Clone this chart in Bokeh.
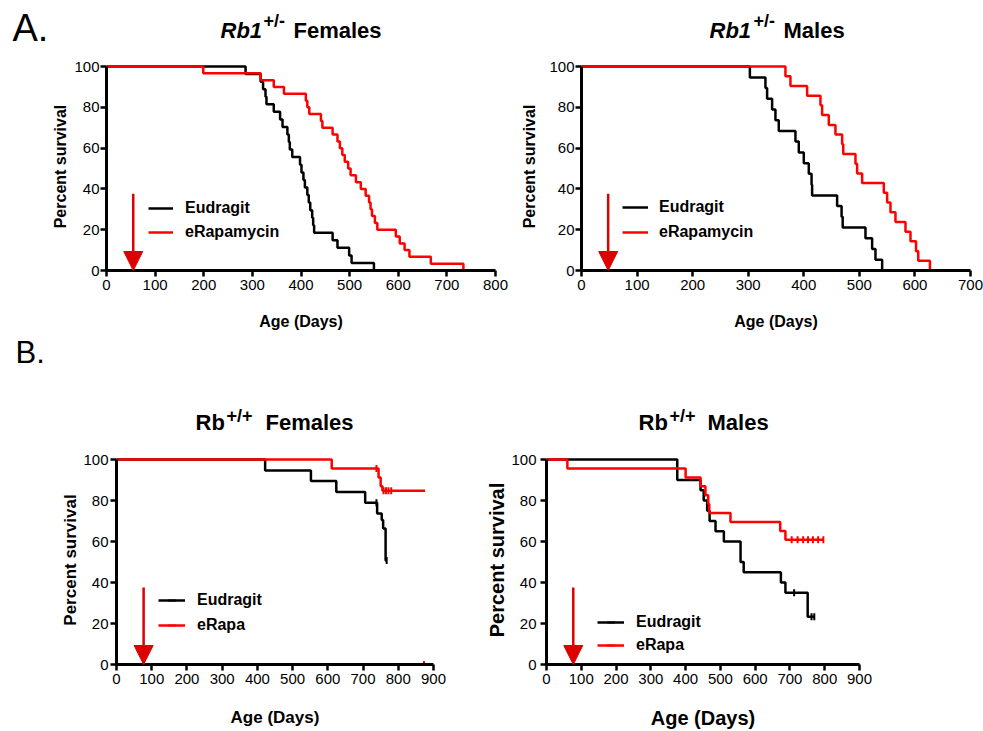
import math
from bokeh.plotting import figure
from bokeh.models import (Range1d, FixedTicker, Label, Legend, LegendItem,
                          Arrow, NormalHead)
from bokeh.layouts import column, row
from bokeh.embed import file_html
from bokeh.resources import INLINE

# ---------------- DATA ----------------
# Panel A, Rb1+/- Females
af_eud_days = [0, 286, 317, 322, 327, 329, 344, 357, 362, 372, 375, 377, 382, 398, 401,
               405, 408, 413, 416, 419, 423, 425, 427, 465, 475, 499, 504, 550]
af_eud_surv = [100, 96.3, 92.6, 88.9, 85.2, 81.5, 77.8, 74.1, 70.4, 66.7, 63.0, 59.3, 55.6,
               51.9, 48.1, 44.4, 40.7, 37.0, 33.3, 29.6, 25.9, 22.2, 18.5, 14.8, 11.1, 7.4, 3.7, 0]
af_rapa_days = [0, 199, 317, 344, 365, 410, 413, 417, 441, 444, 465, 475, 480, 485, 490, 497,
                502, 513, 523, 533, 540, 543, 546, 552, 557, 595, 603, 613, 623, 667, 734]
af_rapa_surv = [100, 96.7, 93.3, 90.0, 86.7, 83.3, 80.0, 76.7, 73.3, 70.0, 66.7, 63.3, 60.0,
                56.7, 53.3, 50.0, 46.7, 43.3, 40.0, 36.7, 33.3, 30.0, 26.7, 23.3, 20.0, 16.7,
                13.3, 10.0, 6.7, 3.3, 0]

# Panel A, Rb1+/- Males
am_eud_days = [0, 303, 331, 334, 343, 349, 355, 385, 391, 400, 409, 414, 415, 460, 468, 470,
               511, 523, 529, 541]
am_eud_surv = [100, 94.7, 89.5, 84.2, 78.9, 73.7, 68.4, 63.2, 57.9, 52.6, 47.4, 42.1, 36.8,
               31.6, 26.3, 21.1, 15.8, 10.5, 5.3, 0]
am_rapa_days = [0, 367, 376, 406, 430, 433, 445, 457, 469, 471, 493, 496, 505, 544, 550, 556,
                565, 583, 592, 602, 606, 627]
am_rapa_surv = [100, 95.2, 90.5, 85.7, 81.0, 76.2, 71.4, 66.7, 61.9, 57.1, 52.4, 47.6, 42.9,
                38.1, 33.3, 28.6, 23.8, 19.0, 14.3, 9.5, 4.8, 0]

# Panel B, Rb+/+ Females
bf_eud_days = [0, 422, 552, 624, 706, 740, 753, 757, 764, 768]
bf_eud_surv = [100, 94.7, 89.5, 84.2, 78.9, 73.7, 70.5, 66.4, 50.7, 50.7]
bf_eud_cens_days = [738, 767]
bf_eud_cens_surv = [78.9, 50.7]
bf_rapa_days = [0, 611, 744, 750, 755, 876]
bf_rapa_surv = [100, 95.7, 91.3, 87.0, 84.8, 84.8]
bf_rapa_cens_days = [738, 758, 765, 772, 780, 873]
bf_rapa_cens_surv = [95.7, 84.8, 84.8, 84.8, 84.8, 0]

# Panel B, Rb+/+ Males
bm_eud_days = [0, 376, 443, 452, 462, 469, 486, 510, 558, 567, 674, 687, 751, 772]
bm_eud_surv = [100, 90, 85, 80, 75, 70, 65, 60, 50, 45, 40, 35, 23.3, 23.3]
bm_eud_cens_days = [712, 762, 770]
bm_eud_cens_surv = [35, 23.3, 23.3]
bm_rapa_days = [0, 60, 400, 443, 457, 465, 468, 529, 672, 687, 797]
bm_rapa_surv = [100, 95.7, 91.3, 87.0, 82.6, 78.3, 73.9, 69.6, 65.2, 60.9, 60.9]
bm_rapa_cens_days = [705, 722, 738, 752, 766, 781, 796]
bm_rapa_cens_surv = [60.9, 60.9, 60.9, 60.9, 60.9, 60.9, 60.9]

# treatment start (arrow) in days
arrow_days = [55, 48, 77, 77]
arrow_top = 37.6

y_ticks = [0, 20, 40, 60, 80, 100]

# ---------------- STYLE ----------------
FONT = "Liberation Sans"
BLACK = "#000000"
RED = "#ff0000"
ARROW_RED = "#dd0000"
PAGE_W = 983


def header(top, h):
    # frame == canvas; data coordinates == page pixel coordinates
    p = figure(width=PAGE_W, height=h, x_range=Range1d(0, PAGE_W), y_range=Range1d(top + h, top),
               output_backend="svg", toolbar_location=None,
               x_axis_location=None, y_axis_location=None,
               min_border_left=0, min_border_right=0, min_border_top=0, min_border_bottom=0)
    p.outline_line_color = None
    p.grid.visible = False
    return p


def text(p, px, baseline, s, size_px, style="bold", font=FONT):
    # the label is placed by its middle; shift so that the glyph baseline lands on `baseline`
    p.add_layout(Label(x=px, y=baseline - 0.37 * size_px, text=s, text_font=font,
                       text_font_size=f"{size_px}px",
                       text_font_style=style, text_color=BLACK,
                       text_baseline="alphabetic"))


def make_panel(w, h, xmax, mbl, mbr, mbt, mbb,
               ylab_size, xlab_size, ylab_standoff, xlab_standoff, ytick_standoff):
    p = figure(width=w, height=h, x_range=Range1d(0, xmax), y_range=Range1d(0, 102),
               output_backend="svg", toolbar_location=None,
               min_border_left=mbl, min_border_right=mbr,
               min_border_top=mbt, min_border_bottom=mbb)
    p.outline_line_color = None
    p.xgrid.visible = False
    p.ygrid.visible = False
    p.xaxis.ticker = FixedTicker(ticks=list(range(0, xmax + 1, 100)))
    p.yaxis.ticker = FixedTicker(ticks=y_ticks)
    p.yaxis.bounds = (0, 100)
    for ax in (p.xaxis[0], p.yaxis[0]):
        ax.axis_line_width = 3
        ax.axis_line_color = BLACK
        ax.major_tick_line_width = 2.5
        ax.major_tick_line_color = BLACK
        ax.major_tick_out = 6
        ax.major_tick_in = 0
        ax.minor_tick_line_color = None
        ax.major_label_text_font = FONT
        ax.major_label_text_font_size = "15px"
        ax.major_label_text_color = BLACK
        ax.axis_label_text_font = FONT
        ax.axis_label_text_font_style = "bold"
        ax.axis_label_text_color = BLACK
    p.xaxis.axis_label = "Age (Days)"
    p.yaxis.axis_label = "Percent survival"
    p.xaxis.axis_label_text_font_size = xlab_size
    p.yaxis.axis_label_text_font_size = ylab_size
    p.xaxis.axis_label_standoff = xlab_standoff
    p.yaxis.axis_label_standoff = ylab_standoff
    p.xaxis.major_label_standoff = 3
    p.yaxis.major_label_standoff = ytick_standoff
    return p


def curves(p, series, names, loc, spacing, glyph_w, standoff):
    items = []
    for (dx, dy, cx, cy, col), name in zip(series, names):
        r = p.step(x=dx, y=dy, mode="after", line_color=col, line_width=2.5)
        c = p.scatter(x=cx, y=cy, marker="dash", angle=math.pi / 2, size=7,
                      line_color=col, line_width=2)
        items.append(LegendItem(label=name, renderers=[r, c]))
    lg = Legend(items=items, location=loc, orientation="vertical", padding=0, margin=0,
                spacing=spacing, glyph_width=glyph_w, glyph_height=20, label_height=20,
                label_standoff=standoff, border_line_color=None,
                background_fill_alpha=0, label_text_font=FONT,
                label_text_font_size="16px", label_text_font_style="bold",
                label_text_color=BLACK)
    p.add_layout(lg)


def arrow(p, d):
    p.add_layout(Arrow(end=NormalHead(size=19, fill_color=ARROW_RED, line_color=ARROW_RED,
                                      line_width=1),
                       x_start=d, y_start=arrow_top, x_end=d, y_end=0,
                       line_color=ARROW_RED, line_width=2.5))


# ---------------- HEADER A ----------------
hA = header(0, 52)
text(hA, 12, 42, "A.", 38, "normal")
text(hA, 220, 38, "Rb1", 22, "bold italic")
text(hA, 263, 27, "+/-", 18)
text(hA, 293, 38, "Females", 22)
text(hA, 709, 38, "Rb1", 22, "bold italic")
text(hA, 753, 27, "+/-", 18)
text(hA, 783, 38, "Males", 22)

# ---------------- PANEL A1 ----------------
pA1 = make_panel(515, 280, 800, 106, 20, 8, 62, "16px", "16px", 2, 20, 1)
curves(pA1, [(af_eud_days, af_eud_surv, [], [], BLACK),
             (af_rapa_days, af_rapa_surv, [], [], RED)],
       ["Eudragit", "eRapamycin"], (42, 28), 4, 25, 12)
arrow(pA1, arrow_days[0])

# ---------------- PANEL A2 ----------------
pA2 = make_panel(468, 280, 700, 66, 13, 10, 60, "16px", "16px", 8, 20, 1)
curves(pA2, [(am_eud_days, am_eud_surv, [], [], BLACK),
             (am_rapa_days, am_rapa_surv, [], [], RED)],
       ["Eudragit", "eRapamycin"], (41, 28), 5, 26, 11)
arrow(pA2, arrow_days[1])

# ---------------- HEADER B ----------------
hB = header(332, 113)
text(hB, 15, 363, "B.", 31, "normal")
text(hB, 195, 430, "Rb", 22)
text(hB, 226, 422, "+/+", 18)
text(hB, 265, 430, "Females", 22)
text(hB, 638, 430, "Rb", 22)
text(hB, 669, 422, "+/+", 18)
text(hB, 707, 430, "Males", 22)

# ---------------- PANEL B1 ----------------
pB1 = make_panel(470, 286, 900, 116, 37, 10, 60, "17px", "17px", 0, 21, 2)
curves(pB1, [(bf_eud_days, bf_eud_surv, bf_eud_cens_days, bf_eud_cens_surv, BLACK),
             (bf_rapa_days, bf_rapa_surv, bf_rapa_cens_days, bf_rapa_cens_surv, RED)],
       ["Eudragit", "eRapa"], (42, 29), 5, 27, 12)
arrow(pB1, arrow_days[2])

# ---------------- PANEL B2 ----------------
pB2 = make_panel(513, 286, 900, 76, 124, 8, 65, "20px", "20px", 0, 20, 4)
curves(pB2, [(bm_eud_days, bm_eud_surv, bm_eud_cens_days, bm_eud_cens_surv, BLACK),
             (bm_rapa_days, bm_rapa_surv, bm_rapa_cens_days, bm_rapa_cens_surv, RED)],
       ["Eudragit", "eRapa"], (51, 9), 3, 27, 12)
arrow(pB2, arrow_days[3])

layout = column(hA, row(pA1, pA2), hB, row(pB1, pB2))

open("out.html", "w").write(file_html(layout, INLINE))
